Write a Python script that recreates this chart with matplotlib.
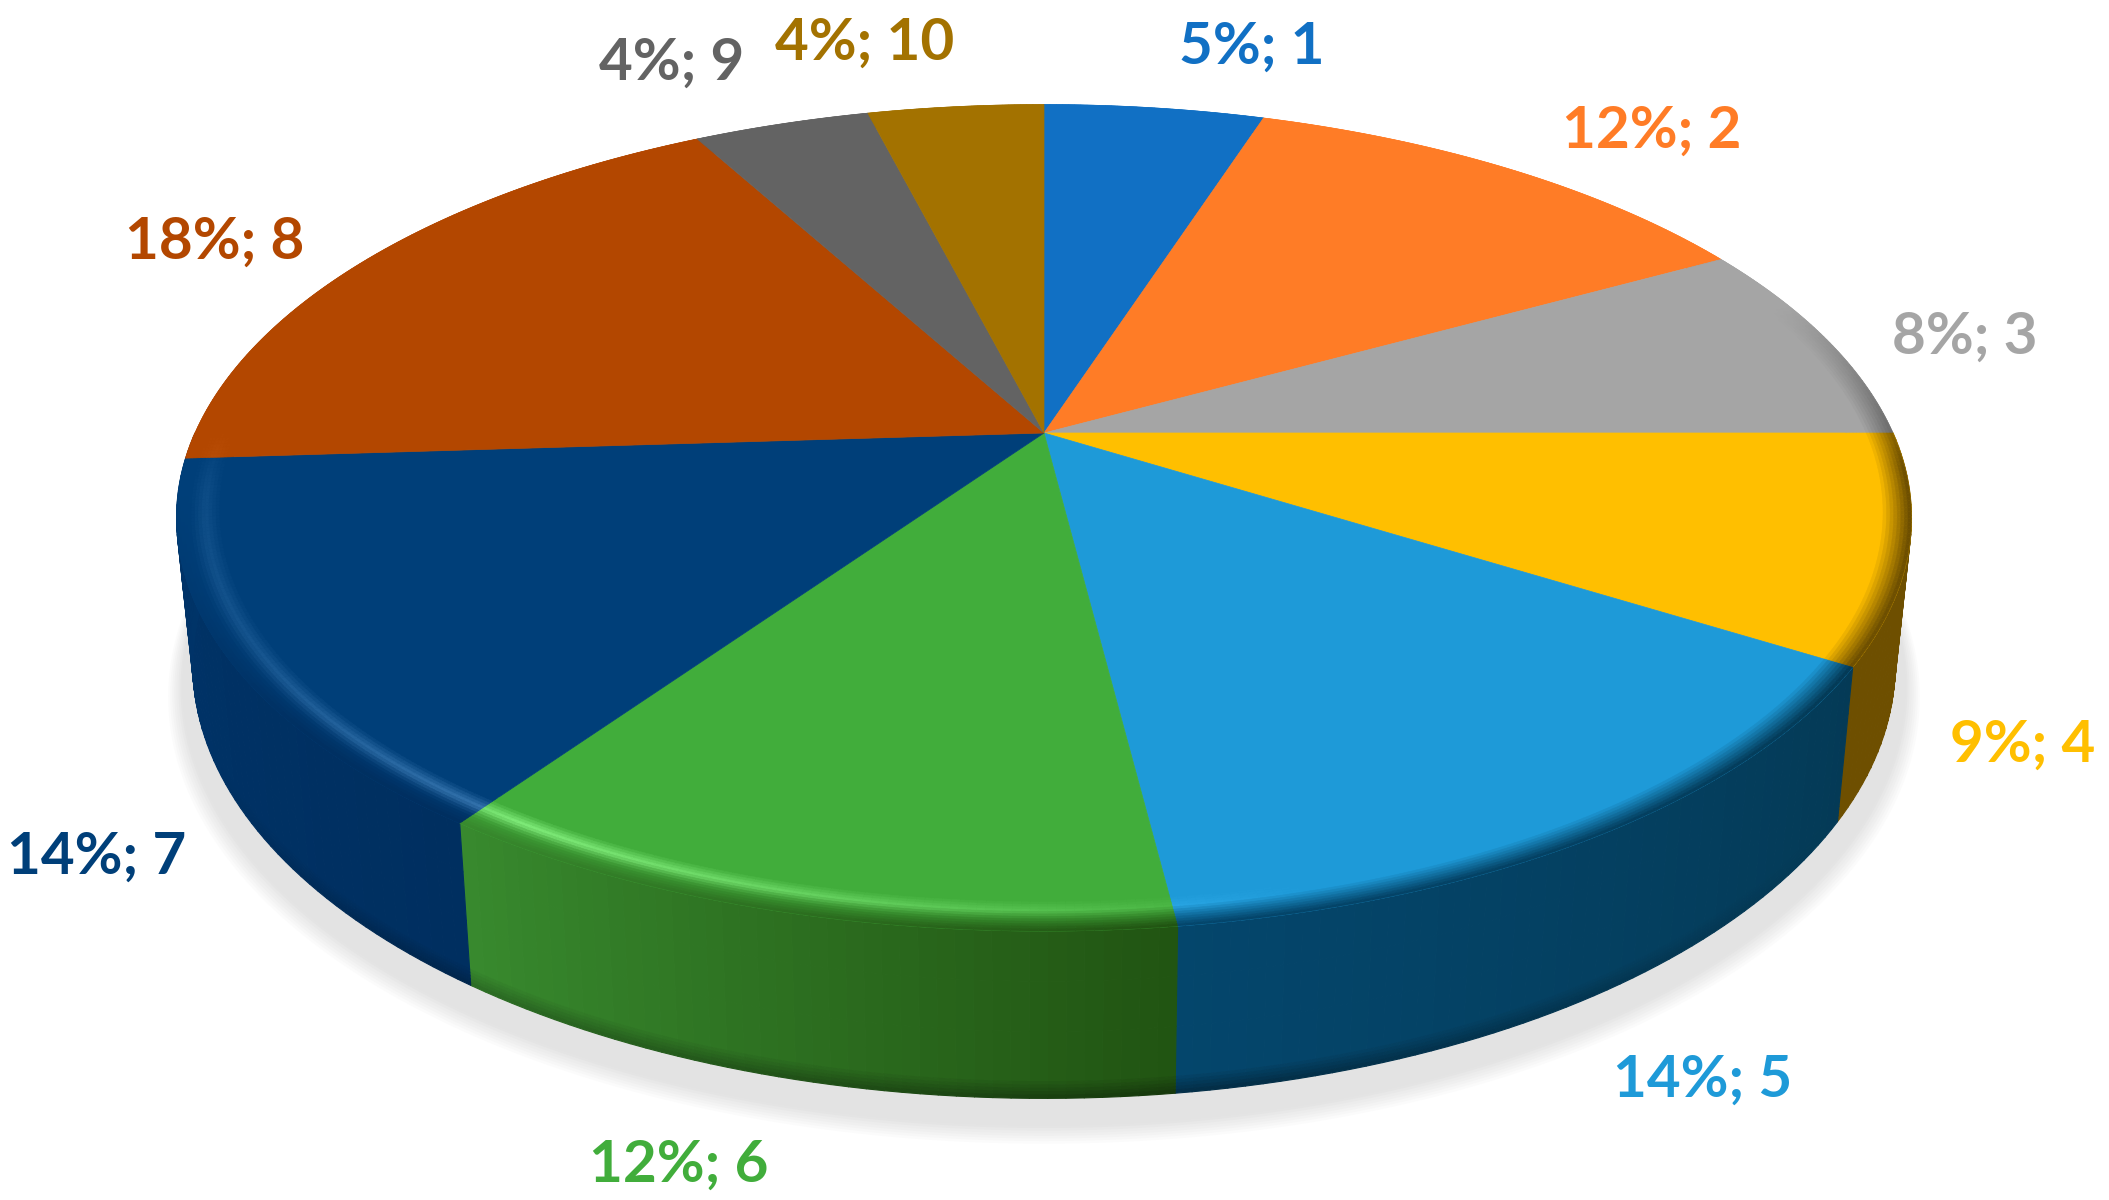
#!/usr/bin/env python3
"""3D style pie chart, drawn as projected polygons."""

import numpy as np
import matplotlib
matplotlib.use("Agg")
import matplotlib.pyplot as plt
from matplotlib.collections import PolyCollection
from matplotlib.colors import to_rgb

# data
categories = [1, 2, 3, 4, 5, 6, 7, 8, 9, 10]
shares = [5, 12, 8, 8.85, 14.15, 11.7, 14.3, 18, 4, 4]

face_colors = ["#1170C4", "#FF7C26", "#A5A5A5", "#FFBF00", "#1E9AD8",
               "#41AD3B", "#003F79", "#B34700", "#636363", "#A37200"]
# side colour at the start and at the end of each wedge (clockwise)
side_start = ["#0A4478", "#99501A", "#5F5F5F", "#6E4F00", "#043A56",
              "#215412", "#002F60", "#7A3000", "#444444", "#6E4F00"]
side_end = ["#0A4478", "#99501A", "#5F5F5F", "#6E4F00", "#04466C",
            "#388A2E", "#003469", "#7A3000", "#444444", "#6E4F00"]

label_xy = [(1252, 47), (1652, 131), (1965, 337), (2023, 745), (1703, 1080),
            (679, 1165), (97, 857), (215, 242), (672, 63), (865, 43)]

# projection of the unit circle, in pixels of the output image
CX = 1044
K = 0.2052
TOP = (849, 433, -307)
BOTTOM = (833, 576, -297)
BEVEL_R = 0.945


def project(theta, r, plane):
    """theta in degrees clockwise from 12 o'clock"""
    a, d, c = plane
    t = np.radians(theta)
    u = r * np.sin(t)
    v = r * np.cos(t)
    w = 1 + K * v
    return CX + a * u / w, (d + c * v) / w


def lerp(c1, c2, t):
    return tuple((1 - t) * np.array(c1) + t * np.array(c2))


def clip(c):
    return tuple(np.clip(c, 0, 1))


def highlight(theta):
    return np.interp(theta, [0, 165, 212, 216, 240, 262, 270, 360],
                     [0, 0, 1.0, 0.8, 0.35, 0.2, 0, 0])


def darkness(theta):
    # how far the bevel turns into the side colour
    return np.interp(theta, [0, 70, 95, 230, 262, 360], [0, 0, 1, 1, 0, 0])


fig = plt.figure(figsize=(21.09, 12), dpi=100)
ax = fig.add_axes([0, 0, 1, 1])
ax.set_xlim(0, 2109)
ax.set_ylim(1200, 0)
ax.axis("off")

# soft shadow under the pie
full = np.linspace(0, 360, 361)
n_shadow = 14
for i in range(n_shadow):
    f = i / (n_shadow - 1)
    r = 1.03 - 0.03 * f
    x, y = project(full, r, BOTTOM)
    col = lerp((1, 1, 1), to_rgb("#E3E3E3"), min(1, f * 1.8))
    ax.fill(x, y + 28 - 14 * f, color=col, lw=0, zorder=1)

edges = np.concatenate([[0], np.cumsum(shares)]) * 3.6

# sides
for i in range(len(shares)):
    t0, t1 = edges[i], edges[i + 1]
    t0v, t1v = max(t0, 90), min(t1, 270)
    if t1v <= t0v:
        continue
    thetas = np.arange(t0v, t1v + 1, 1.0)
    thetas[-1] = t1v
    levels = np.concatenate([np.linspace(0, 0.9, 4), np.linspace(0.92, 1, 5)])
    polys, cols = [], []
    c_a, c_b = to_rgb(side_start[i]), to_rgb(side_end[i])
    for a, b in zip(thetas[:-1], thetas[1:]):
        xt_a, yt_a = project(a, 1, TOP)
        xt_b, yt_b = project(b, 1, TOP)
        xb_a, yb_a = project(a, 1, BOTTOM)
        xb_b, yb_b = project(b, 1, BOTTOM)
        base = lerp(c_a, c_b, ((a + b) / 2 - t0) / (t1 - t0))
        front = np.interp((a + b) / 2, [125, 170, 215, 245], [0, 1, 0.6, 0])
        for s0, s1 in zip(levels[:-1], levels[1:]):
            polys.append([(xt_a + s0 * (xb_a - xt_a), yt_a + s0 * (yb_a - yt_a)),
                          (xt_b + s0 * (xb_b - xt_b), yt_b + s0 * (yb_b - yt_b)),
                          (xt_b + s1 * (xb_b - xt_b), yt_b + s1 * (yb_b - yt_b)),
                          (xt_a + s1 * (xb_a - xt_a), yt_a + s1 * (yb_a - yt_a))])
            dark = 1 - 0.4 * front * max(0, (s0 - 0.88) / 0.12)
            cols.append(clip(np.array(base) * dark))
    ax.add_collection(PolyCollection(polys, facecolors=cols, edgecolors=cols,
                                     linewidths=0.8, zorder=2))

# top faces
for i in range(len(shares)):
    thetas = np.arange(edges[i], edges[i + 1] + 0.5, 0.5)
    thetas[-1] = edges[i + 1]
    x, y = project(thetas, 1, TOP)
    ax.fill(np.r_[CX, x], np.r_[TOP[1], y], color=face_colors[i],
            ec=face_colors[i], lw=0.5, zorder=3)

# bevel strip along the rim
n_bevel = 14
for i in range(len(shares)):
    thetas = np.arange(edges[i], edges[i + 1] + 0.5, 0.5)
    thetas[-1] = edges[i + 1]
    face = to_rgb(face_colors[i])
    c_a, c_b = to_rgb(side_start[i]), to_rgb(side_end[i])
    polys, cols = [], []
    for a, b in zip(thetas[:-1], thetas[1:]):
        mid = (a + b) / 2
        side = lerp(c_a, c_b, (mid - edges[i]) / (edges[i + 1] - edges[i]))
        hl = highlight(mid)
        dk = darkness(mid)
        for j in range(n_bevel):
            t = (j + 0.5) / n_bevel
            # face, then a light band, then the side colour
            r0 = BEVEL_R + (1 - BEVEL_R) * j / n_bevel
            r1 = BEVEL_R + (1 - BEVEL_R) * (j + 1) / n_bevel
            bump = max(0, 1 - abs(t - 0.42) / 0.3) * hl * 0.26
            c = np.array(face) + bump
            mix = np.clip((t - 0.4) / 0.55, 0, 1) * dk
            c = clip(lerp(c, side, mix))
            xa0, ya0 = project(a, r0, TOP)
            xb0, yb0 = project(b, r0, TOP)
            xb1, yb1 = project(b, r1, TOP)
            xa1, ya1 = project(a, r1, TOP)
            polys.append([(xa0, ya0), (xb0, yb0), (xb1, yb1), (xa1, ya1)])
            cols.append(c)
    ax.add_collection(PolyCollection(polys, facecolors=cols, edgecolors=cols,
                                     linewidths=0.4, zorder=4))

# labels
for cat, share, col, (x, y) in zip(categories, shares, face_colors, label_xy):
    ax.text(x, y, f"{round(share)}%; {cat}", color=col, fontsize=42, fontweight="bold",
            family="Lato", ha="center", va="center", zorder=5)

fig.savefig("out.png", dpi=100, facecolor="white")
